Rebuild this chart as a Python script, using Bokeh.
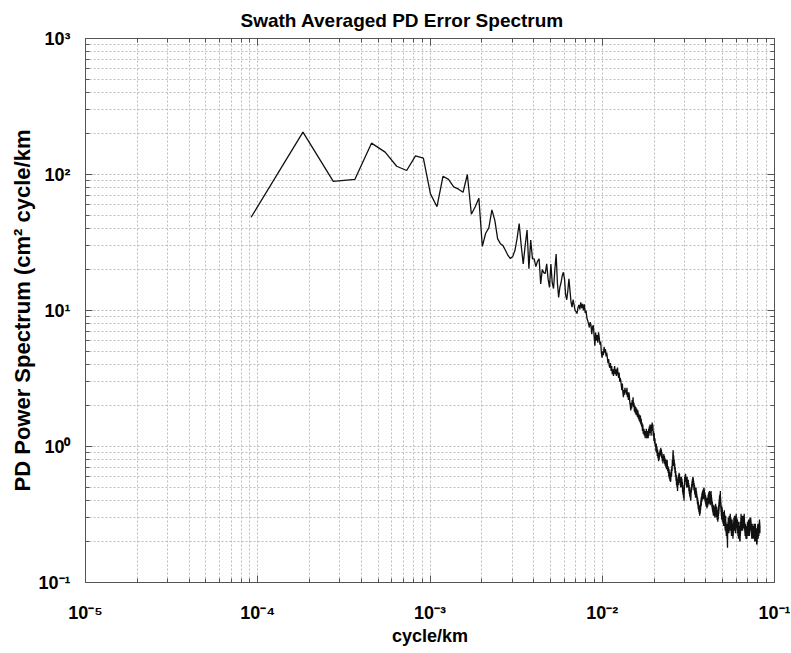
from bokeh.plotting import figure
from bokeh.models import LogAxis, FixedTicker, ColumnDataSource, CustomJSTickFormatter
from bokeh.embed import file_html
from bokeh.resources import INLINE

# ---------------- data ----------------
title_text = "Swath Averaged PD Error Spectrum"
x_label_text = "cycle/km"
y_label_text = "PD Power Spectrum (cm\u00b2 cycle/km"

x_exponents = [-5, -4, -3, -2, -1]
y_exponents = [-1, 0, 1, 2, 3]
minor_mantissas = [2, 3, 4, 5, 6, 7, 8, 9]

freq_step = 9.15e-5   # spacing of the spectral estimates (cycle/km)

psd_1_40 = [48.5, 205, 89, 92, 170, 146, 115, 107, 137, 132,
            72, 58, 97, 92, 81, 78, 74, 100, 51, 58,
            67, 29.6, 37, 40.5, 55, 46, 33.6, 31, 30, 27.6,
            25.4, 24.1, 24.9, 27.6, 33.8, 43.6, 30, 22, 30, 39]
psd_41_100 = [20.3, 33, 24, 24, 21, 23, 24, 15.7, 20, 19,
              18.7, 22, 17, 14.8, 22, 16, 14.5, 20, 26, 16,
              12.5, 14.8, 16, 18, 19.1, 17, 13, 12, 14, 17.1,
              14, 11.5, 10.6, 12, 11, 10, 9.8, 9.5, 10.5, 11.0,
              10.2, 11.5, 10.4, 11.2, 10.0, 11.1, 9.6, 10.0, 8.8, 8.4,
              8.0, 7.5, 8.2, 7.8, 6.7, 7.6, 7.8, 6.5, 5.5, 6.9]
psd_101_200 = [6.0, 6.6, 5.8, 6.9, 6.3, 5.6, 5.9, 4.9, 4.5, 5.0,
               4.7, 5.4, 4.9, 5.2, 4.6, 4.9, 4.5, 4.1, 4.4, 3.9,
               3.8, 4.1, 3.6, 3.9, 3.4, 3.7, 3.3, 3.6, 3.9, 3.4,
               3.7, 3.3, 3.6, 3.8, 3.4, 3.2, 3.5, 3.0, 3.2, 3.05,
               2.8, 2.6, 2.9, 2.5, 2.3, 2.6, 2.4, 2.7, 2.5, 2.6,
               2.4, 2.7, 2.3, 2.5, 2.2, 2.5, 2.37, 2.1, 2.0, 1.84,
               2.1, 1.9, 2.2, 2.0, 2.3, 1.95, 2.1, 1.8, 2.0, 1.75,
               1.95, 1.7, 1.9, 1.84, 1.65, 1.85, 1.6, 1.75, 1.55, 1.7,
               1.5, 1.69, 1.45, 1.6, 1.4, 1.5, 1.3, 1.45, 1.25, 1.24,
               1.35, 1.2, 1.3, 1.15, 1.3, 1.2, 1.35, 1.15, 1.17, 1.25]
psd_201_300 = [1.3, 1.15, 1.35, 1.2, 1.4, 1.3, 1.45, 1.25, 1.4, 1.2,
               1.45, 1.3, 1.5, 1.35, 1.45, 1.2, 1.3, 1.1, 1.25, 1.05,
               1.15, 1.0, 1.05, 0.92, 1.05, 0.9, 1.0, 0.85, 0.95, 0.82,
               0.9, 0.78, 0.88, 0.8, 0.92, 0.84, 0.95, 0.86, 0.98, 0.88,
               0.95, 0.82, 0.9, 0.78, 0.86, 0.75, 0.84, 0.78, 0.88, 0.8,
               0.85, 0.74, 0.82, 0.72, 0.8, 0.7, 0.78, 0.68, 0.75, 0.8,
               0.74, 0.66, 0.72, 0.64, 0.70, 0.6, 0.68, 0.58, 0.65, 0.56,
               0.62, 0.55, 0.56, 0.62, 0.68, 0.6, 0.72, 0.66, 0.8, 0.72,
               0.88, 0.94, 0.8, 0.86, 0.72, 0.8, 0.68, 0.75, 0.64, 0.7,
               0.6, 0.66, 0.56, 0.62, 0.52, 0.58, 0.5, 0.55, 0.47, 0.53]
psd_301_400 = [0.6, 0.52, 0.62, 0.55, 0.64, 0.56, 0.63, 0.54, 0.6, 0.52,
               0.58, 0.5, 0.57, 0.52, 0.6, 0.54, 0.58, 0.5, 0.55, 0.46,
               0.52, 0.44, 0.5, 0.42, 0.48, 0.4, 0.47, 0.52, 0.6, 0.55,
               0.62, 0.55, 0.63, 0.56, 0.6, 0.52, 0.58, 0.5, 0.56, 0.6,
               0.52, 0.57, 0.5, 0.55, 0.57, 0.5, 0.54, 0.47, 0.52, 0.45,
               0.5, 0.43, 0.48, 0.42, 0.46, 0.41, 0.40, 0.45, 0.5, 0.46,
               0.53, 0.48, 0.56, 0.5, 0.58, 0.52, 0.6, 0.53, 0.59, 0.52,
               0.56, 0.48, 0.54, 0.47, 0.52, 0.45, 0.5, 0.44, 0.49, 0.42,
               0.48, 0.43, 0.5, 0.44, 0.47, 0.42, 0.45, 0.4, 0.43, 0.38,
               0.42, 0.37, 0.4, 0.35, 0.39, 0.34, 0.37, 0.33, 0.36, 0.32]
psd_401_500 = [0.35, 0.31, 0.37, 0.33, 0.32, 0.38, 0.34, 0.4, 0.36, 0.42,
               0.37, 0.43, 0.39, 0.45, 0.4, 0.46, 0.41, 0.47, 0.42, 0.48,
               0.43, 0.46, 0.41, 0.49, 0.44, 0.50, 0.45, 0.48, 0.42, 0.46,
               0.4, 0.45, 0.39, 0.44, 0.38, 0.43, 0.37, 0.42, 0.36, 0.41,
               0.37, 0.4, 0.35, 0.42, 0.38, 0.38, 0.36, 0.42, 0.37, 0.44,
               0.39, 0.45, 0.4, 0.46, 0.41, 0.44, 0.38, 0.47, 0.42, 0.45,
               0.39, 0.43, 0.37, 0.46, 0.4, 0.44, 0.38, 0.47, 0.41, 0.44,
               0.38, 0.42, 0.36, 0.4, 0.35, 0.39, 0.34, 0.38, 0.33, 0.37,
               0.32, 0.36, 0.31, 0.35, 0.32, 0.37, 0.33, 0.36, 0.31, 0.32,
               0.35, 0.3, 0.34, 0.31, 0.36, 0.32, 0.38, 0.33, 0.37, 0.31]
psd_501_600 = [0.34, 0.3, 0.35, 0.31, 0.36, 0.3, 0.33, 0.29, 0.34, 0.3,
               0.32, 0.28, 0.3, 0.34, 0.29, 0.35, 0.31, 0.37, 0.32, 0.39,
               0.34, 0.41, 0.36, 0.43, 0.38, 0.44, 0.39, 0.45, 0.4, 0.47,
               0.38, 0.42, 0.35, 0.39, 0.33, 0.37, 0.31, 0.35, 0.29, 0.34,
               0.3, 0.36, 0.31, 0.35, 0.28, 0.33, 0.29, 0.32, 0.27, 0.29,
               0.33, 0.28, 0.32, 0.26, 0.31, 0.27, 0.33, 0.28, 0.34, 0.29,
               0.32, 0.26, 0.3, 0.25, 0.29, 0.24, 0.3, 0.26, 0.31, 0.25,
               0.28, 0.23, 0.27, 0.22, 0.26, 0.23, 0.27, 0.22, 0.25, 0.21,
               0.24, 0.2, 0.18, 0.22, 0.26, 0.23, 0.28, 0.24, 0.3, 0.25,
               0.29, 0.24, 0.28, 0.23, 0.3, 0.26, 0.31, 0.25, 0.29, 0.24]
psd_601_700 = [0.3, 0.25, 0.31, 0.26, 0.32, 0.27, 0.3, 0.25, 0.29, 0.3,
               0.24, 0.28, 0.23, 0.27, 0.22, 0.26, 0.23, 0.28, 0.24, 0.29,
               0.25, 0.27, 0.22, 0.26, 0.23, 0.25, 0.21, 0.24, 0.22, 0.23,
               0.27, 0.24, 0.28, 0.25, 0.3, 0.26, 0.29, 0.24, 0.28, 0.25,
               0.31, 0.26, 0.3, 0.25, 0.29, 0.24, 0.27, 0.23, 0.28, 0.25,
               0.29, 0.26, 0.31, 0.27, 0.32, 0.28, 0.3, 0.26, 0.29, 0.3,
               0.25, 0.28, 0.24, 0.27, 0.23, 0.29, 0.25, 0.28, 0.24, 0.26,
               0.22, 0.27, 0.23, 0.25, 0.21, 0.26, 0.22, 0.27, 0.23, 0.28,
               0.24, 0.26, 0.22, 0.25, 0.21, 0.24, 0.2, 0.23, 0.21, 0.2,
               0.24, 0.22, 0.26, 0.23, 0.28, 0.24, 0.3, 0.26, 0.32, 0.27]
psd_701_800 = [0.31, 0.26, 0.3, 0.25, 0.29, 0.24, 0.28, 0.25, 0.3, 0.26,
               0.31, 0.27, 0.29, 0.24, 0.28, 0.25, 0.3, 0.26, 0.31, 0.27,
               0.3, 0.26, 0.29, 0.25, 0.3, 0.27, 0.31, 0.28, 0.32, 0.27,
               0.3, 0.25, 0.28, 0.24, 0.27, 0.23, 0.26, 0.22, 0.25, 0.23,
               0.27, 0.24, 0.26, 0.22, 0.25, 0.21, 0.24, 0.22, 0.26, 0.23,
               0.25, 0.21, 0.23, 0.21, 0.21, 0.24, 0.22, 0.26, 0.23, 0.27,
               0.24, 0.28, 0.25, 0.27, 0.23, 0.26, 0.22, 0.25, 0.23, 0.27,
               0.24, 0.28, 0.25, 0.29, 0.26, 0.28, 0.24, 0.27, 0.23, 0.26,
               0.22, 0.25, 0.23, 0.28, 0.25, 0.29, 0.26, 0.3, 0.27, 0.29,
               0.25, 0.28, 0.24, 0.27, 0.3, 0.26, 0.29, 0.25, 0.28, 0.24]
psd_801_900 = [0.27, 0.23, 0.26, 0.22, 0.25, 0.21, 0.24, 0.22, 0.26, 0.23,
               0.27, 0.24, 0.26, 0.22, 0.25, 0.21, 0.24, 0.22, 0.25, 0.23,
               0.26, 0.22, 0.24, 0.21, 0.23, 0.26, 0.22, 0.25, 0.21, 0.24,
               0.22, 0.27, 0.23, 0.26, 0.22, 0.25, 0.21, 0.24, 0.2, 0.23,
               0.21, 0.25, 0.22, 0.26, 0.23, 0.27, 0.24, 0.26, 0.22, 0.25,
               0.21, 0.24, 0.2, 0.23, 0.21, 0.25, 0.22, 0.24, 0.2, 0.22,
               0.19, 0.23, 0.2, 0.24, 0.19, 0.22, 0.2, 0.24, 0.21, 0.25,
               0.22, 0.26, 0.23, 0.27, 0.24, 0.26, 0.22, 0.25, 0.21, 0.24,
               0.22, 0.26, 0.23, 0.27, 0.24, 0.26, 0.22, 0.25, 0.23, 0.27,
               0.24, 0.28, 0.25, 0.29, 0.26, 0.28, 0.24, 0.27, 0.23, 0.26]

psd = (psd_1_40 + psd_41_100 + psd_101_200 + psd_201_300 + psd_301_400 +
       psd_401_500 + psd_501_600 + psd_601_700 + psd_701_800 + psd_801_900)
freq = [(i + 1) * freq_step for i in range(len(psd))]

# ---------------- figure ----------------
FONT = "Liberation Sans"
AX = "#555555"
GRID = "#bdbdbd"

x_major = [10.0 ** e for e in x_exponents]
y_major = [10.0 ** e for e in y_exponents]
x_minor = [m * 10.0 ** e for e in x_exponents[:-1] for m in minor_mantissas]
y_minor = [m * 10.0 ** e for e in y_exponents[:-1] for m in minor_mantissas]

p = figure(width=790, height=652, x_axis_type="log", y_axis_type="log",
           x_range=(x_major[0], x_major[-1]), y_range=(y_major[0], y_major[-1]),
           output_backend="svg", toolbar_location=None, title=title_text,
           min_border_left=85, min_border_right=16, min_border_top=38, min_border_bottom=70)
p.background_fill_color = "white"
p.border_fill_color = "white"
p.outline_line_color = AX

p.title.align = "left"
p.title.offset = 155
p.title.text_font = FONT
p.title.text_font_style = "bold"
p.title.text_font_size = "19px"
p.title.text_color = "black"
p.title.standoff = 15

xt = FixedTicker(ticks=x_major, minor_ticks=x_minor)
yt = FixedTicker(ticks=y_major, minor_ticks=y_minor)
blank = CustomJSTickFormatter(code="return ''")
power_of_ten = CustomJSTickFormatter(code="""
const sup = {"-": "\u207b", "0": "\u2070", "1": "\u00b9", "2": "\u00b2", "3": "\u00b3",
             "4": "\u2074", "5": "\u2075", "6": "\u2076", "7": "\u2077", "8": "\u2078", "9": "\u2079"};
const e = Math.round(Math.log10(tick));
return "10" + String(e).split("").map((c) => sup[c]).join("");
""")


def style_axis(ax, ticker, labelled):
    ax.ticker = ticker
    ax.major_tick_in = 7
    ax.major_tick_out = 0
    ax.minor_tick_in = 4
    ax.minor_tick_out = 0
    ax.axis_line_color = AX
    ax.major_tick_line_color = AX
    ax.minor_tick_line_color = AX
    if labelled:
        ax.formatter = power_of_ten
        ax.major_label_text_font = FONT
        ax.major_label_text_font_style = "bold"
        ax.major_label_text_font_size = "18px"
        ax.major_label_text_color = "black"
        ax.axis_label_text_font = FONT
        ax.axis_label_text_font_style = "bold"
        ax.axis_label_text_color = "black"
    else:
        ax.formatter = blank
        ax.major_label_text_font_size = "0px"
        ax.major_label_standoff = 0


xa = p.xaxis[0]
ya = p.yaxis[0]
style_axis(xa, xt, True)
style_axis(ya, yt, True)
xa.axis_label = x_label_text
ya.axis_label = y_label_text
xa.axis_label_text_font_size = "18px"
ya.axis_label_text_font_size = "22px"
xa.major_label_standoff = 20
xa.axis_label_standoff = 0
ya.major_label_standoff = 15
ya.axis_label_standoff = 0

top_axis = LogAxis()
style_axis(top_axis, xt, False)
p.add_layout(top_axis, "above")
right_axis = LogAxis()
style_axis(right_axis, yt, False)
p.add_layout(right_axis, "right")

for g, t in ((p.xgrid[0], xt), (p.ygrid[0], yt)):
    g.ticker = t
    g.grid_line_color = GRID
    g.grid_line_dash = "2 2"
    g.grid_line_width = 1
    g.minor_grid_line_color = GRID
    g.minor_grid_line_dash = "2 2"
    g.minor_grid_line_width = 1

src = ColumnDataSource(data=dict(freq=freq, psd=psd))
p.line("freq", "psd", source=src, line_color="#111111", line_width=1.3)

open("out.html", "w").write(file_html(p, INLINE))
